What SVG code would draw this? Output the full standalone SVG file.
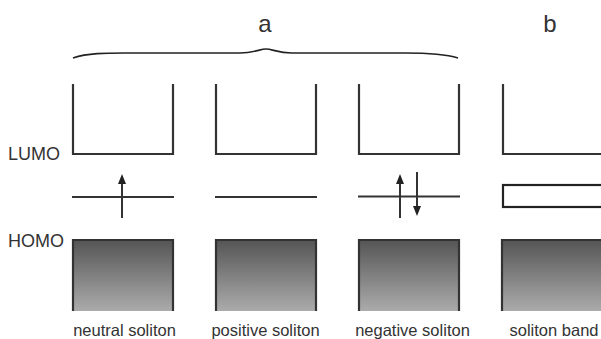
<svg xmlns="http://www.w3.org/2000/svg" width="601" height="339" viewBox="0 0 601 339">
<defs>
<linearGradient id="g" x1="0" y1="0" x2="0" y2="1">
<stop offset="0" stop-color="#555"/>
<stop offset="1" stop-color="#ababab"/>
</linearGradient>
<marker id="ah" viewBox="0 0 10 10" refX="5" refY="5" markerWidth="5" markerHeight="5" orient="auto">
<path d="M0,1 L10,5 L0,9 Z" fill="#222"/>
</marker>
</defs>
<style>
.ln{fill:none;stroke:#333;stroke-width:2.2}
.hb{fill:url(#g);stroke:none}
.ar{stroke:#333;stroke-width:2;marker-end:url(#ah)}
.t{font-family:"Liberation Sans",Arial,sans-serif;fill:#333}
.lbl{font-size:16.5px;text-anchor:middle}
.big{font-size:24px;text-anchor:middle}
.side{font-size:18px}
</style>
<rect width="601" height="339" fill="#fff"/>
<g id="header">
<text class="t big" x="265" y="32">a</text>
<text class="t big" x="550" y="32">b</text>
<path d="M73,58 C88,53 105,53 125,53 L240,53 C254,53 260,49 266,49 C272,49 278,53 292,53 L405,53 C425,53 445,54 458,58" fill="none" stroke="#222" stroke-width="1.6"/>
</g>
<g id="axis-labels">
<text class="t side" x="8" y="160">LUMO</text>
<text class="t side" x="8" y="247">HOMO</text>
</g>
<g id="neutral">
<path class="ln" d="M73,84 V154 H173 V84"/>
<line class="ln" x1="72" y1="197" x2="174" y2="197"/>
<rect class="hb" x="73" y="240" width="100" height="71"/>
<path class="ln" d="M73,311 V240 H173 V311"/>
<text class="t lbl" x="124.5" y="336">neutral soliton</text>
</g>
<g id="positive">
<path class="ln" d="M216,84 V154 H316 V84"/>
<line class="ln" x1="215" y1="197" x2="317" y2="197"/>
<rect class="hb" x="216" y="240" width="100" height="71"/>
<path class="ln" d="M216,311 V240 H316 V311"/>
<text class="t lbl" x="265.5" y="336">positive soliton</text>
</g>
<g id="negative">
<path class="ln" d="M359,84 V154 H459 V84"/>
<line class="ln" x1="358" y1="196.5" x2="460" y2="196.5"/>
<rect class="hb" x="359" y="240" width="100" height="71"/>
<path class="ln" d="M359,311 V240 H459 V311"/>
<text class="t lbl" x="412.5" y="336">negative soliton</text>
</g>
<g id="band">
<path class="ln" d="M503,84 V154 H601"/>
<rect x="503" y="185" width="102" height="22" fill="#fff" stroke="#222" stroke-width="2.2"/>
<rect class="hb" x="502" y="240" width="102" height="71"/>
<path class="ln" d="M502,311 V240 H604"/>
<text class="t lbl" x="554" y="336">soliton band</text>
</g>
<g id="connectors">
<line class="ar" x1="122" y1="218" x2="122" y2="179"/>
<line class="ar" x1="400" y1="218" x2="400" y2="179"/>
<line class="ar" x1="417" y1="172" x2="417" y2="211"/>
</g>
</svg>
